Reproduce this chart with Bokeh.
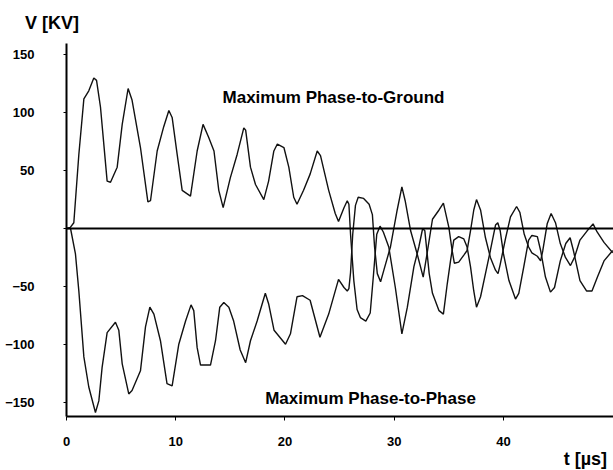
from bokeh.plotting import figure
from bokeh.models import Range1d, Label, FixedTicker, LinearAxis
from bokeh.embed import file_html
from bokeh.resources import INLINE

# Maximum Phase-to-Ground
t_ground = [0, 0.35, 0.67, 1.13, 1.59, 2.04, 2.5, 2.75, 3.11, 3.72,
            4.03, 4.64, 5.1, 5.64, 6.0, 6.77, 7.45, 7.69, 8.3, 8.9,
            9.37, 9.67, 10.13, 10.59, 11.35, 11.96, 12.5, 13.0, 13.5, 13.94,
            14.34, 15.0, 15.62, 16.23, 16.4, 16.84, 17.3, 18.06, 18.5, 18.98,
            19.3, 19.9, 20.35, 20.8, 21.1, 21.7, 22.3, 22.95, 23.25, 24.0,
            24.6, 24.9, 25.4, 25.7, 25.85, 26.0, 26.3, 26.6, 26.9, 27.4,
            27.8, 28.1, 28.4, 28.7, 29.0, 29.5, 30.1, 30.7, 31.2, 31.8,
            32.25, 32.6, 32.8, 33.2, 33.5, 34.1, 34.5, 34.85, 35.15, 35.45,
            35.9, 36.37, 36.67, 36.98, 37.28, 37.53, 37.9, 38.35, 38.8, 39.27,
            39.48, 39.7, 40.0, 40.5, 41.1, 41.4, 41.86, 42.3, 42.6, 43.1,
            43.4, 43.84, 44.3, 44.67, 45.2, 45.7, 46.1, 46.4, 47.0, 47.6,
            48.1, 48.6, 49.2, 50.0]
v_ground = [0, 1, 5, 64, 112, 119, 130, 128, 105, 41,
            40, 53, 90, 121, 111, 70, 23, 24, 67, 88,
            102, 96, 64, 33, 28, 67, 90, 79, 67, 33,
            18, 44, 64, 87, 85, 53, 38, 25, 41, 67,
            73, 70, 53, 27, 21, 33, 47, 67, 63, 33,
            13, 6, 18, 24, 21, -5, -45, -70, -77, -80,
            -73, -40, -5, 2, -3, -16, -51, -91, -68, -33,
            -16, 0, -2, -39, -56, -71, -74, -48, -28, -10,
            -7, -9, -16, -33, -54, -68, -59, -39, -19, 3,
            5, -2, -22, -45, -61, -56, -33, -10, -6, -7,
            -19, -42, -55, -51, -28, -13, -8, -19, -45, -54,
            -54, -42, -28, -19]

# Maximum Phase-to-Phase
t_phase = [0, 0.37, 0.82, 1.13, 1.59, 2.04, 2.65, 2.96, 3.26, 3.72,
           4.48, 4.79, 5.1, 5.7, 6.0, 6.77, 7.23, 7.63, 8.0, 8.6,
           9.2, 9.67, 10.28, 10.9, 11.4, 11.65, 11.96, 12.27, 13.18, 13.64,
           14.03, 14.4, 14.86, 15.3, 15.9, 16.4, 16.84, 17.45, 18.2, 18.5,
           19.0, 20.05, 20.5, 21.1, 21.6, 22.3, 23.2, 24.0, 24.9, 25.4,
           25.7, 25.85, 26.0, 26.2, 26.45, 26.7, 27.2, 27.7, 28.0, 28.2,
           28.45, 28.75, 29.05, 29.65, 30.27, 30.7, 31.0, 31.5, 32.1, 32.65,
           33.0, 33.5, 34.1, 34.5, 35.0, 35.3, 35.5, 35.9, 36.37, 36.67,
           36.98, 37.28, 37.53, 37.9, 38.35, 38.8, 39.27, 39.5, 39.7, 40.2,
           40.64, 41.2, 41.5, 41.9, 42.3, 42.6, 43.1, 43.4, 43.6, 44.0,
           44.36, 44.76, 45.2, 45.67, 46.13, 46.5, 47.0, 47.66, 48.2, 48.57,
           49.2, 50.0]
v_phase = [0, 0, -22, -54, -111, -137, -159, -149, -120, -90,
           -81, -88, -117, -143, -140, -123, -85, -68, -74, -97,
           -134, -136, -100, -80, -66, -71, -103, -118, -118, -97,
           -68, -64, -68, -80, -105, -116, -97, -80, -56, -65,
           -88, -100, -91, -59, -58, -62, -94, -74, -44, -51,
           -54, -52, -38, -5, 20, 27, 26, 21, 12, -16,
           -39, -46, -36, -16, 16, 36, 24, -2, -22, -42,
           -22, 8, 16, 22, 1, -19, -30, -29, -23, -19,
           -2, 16, 25, 16, -8, -25, -36, -39, -31, -8,
           10, 19, 14, -5, -16, -21, -24, -28, -19, 4,
           13, 5, -13, -25, -32, -25, -10, -2, 4, -3,
           -12, -21]

x_ticks = [0, 10, 20, 30, 40]
y_ticks = [-150, -100, -50, 0, 50, 100, 150]
x_axis_extent = (0, 50.07)
y_axis_extent = (-162.5, 160)

FONT = "Liberation Sans"

p = figure(width=613, height=470, output_backend="svg", toolbar_location=None,
           x_range=Range1d(-6.041, 50.07), y_range=Range1d(-209.16, 197.06),
           min_border=0)
p.outline_line_color = None
p.grid.visible = False
p.background_fill_color = "white"
p.border_fill_color = "white"

p.line(t_ground, v_ground, line_color="#111111", line_width=1.4)
p.line(t_phase, v_phase, line_color="#111111", line_width=1.4)


def style_axis(ax, tick_out):
    ax.axis_line_width = 2
    ax.axis_line_color = "black"
    ax.major_tick_out = tick_out
    ax.major_tick_in = 0
    ax.minor_tick_out = 0
    ax.minor_tick_in = 0
    ax.major_tick_line_color = "black"
    ax.major_tick_line_width = 1
    ax.major_label_text_font = FONT
    ax.major_label_text_font_style = "bold"
    ax.major_label_text_font_size = "13px"
    ax.major_label_text_color = "black"


xa = p.xaxis[0]
xa.ticker = FixedTicker(ticks=x_ticks)
xa.fixed_location = y_axis_extent[0]
xa.bounds = x_axis_extent
style_axis(xa, 4)
xa.major_label_standoff = 16

ya = p.yaxis[0]
ya.ticker = FixedTicker(ticks=y_ticks)
ya.fixed_location = x_axis_extent[0]
ya.bounds = y_axis_extent
style_axis(ya, 3)
ya.major_label_overrides = {0: ""}
ya.major_label_standoff = 29

# zero reference line drawn as a bare axis line at V = 0
zero_axis = LinearAxis(ticker=FixedTicker(ticks=[]), fixed_location=0,
                       bounds=x_axis_extent)
style_axis(zero_axis, 0)
zero_axis.major_label_text_font_size = "0px"
p.add_layout(zero_axis, "below")


def add_text(x, y, txt, size):
    p.add_layout(Label(x=x, y=y, text=txt, text_font=FONT, text_font_style="bold",
                       text_font_size=size, text_color="black",
                       text_align="center", text_baseline="middle"))


add_text(24.44, 113.2, "Maximum Phase-to-Ground", "17px")
add_text(27.83, -147.0, "Maximum Phase-to-Phase", "17px")
add_text(-1.33, 177.2, "V [KV]", "18px")
add_text(47.5, -199.6, "t [\u00b5s]", "18px")

open("out.html", "w").write(file_html(p, INLINE))
